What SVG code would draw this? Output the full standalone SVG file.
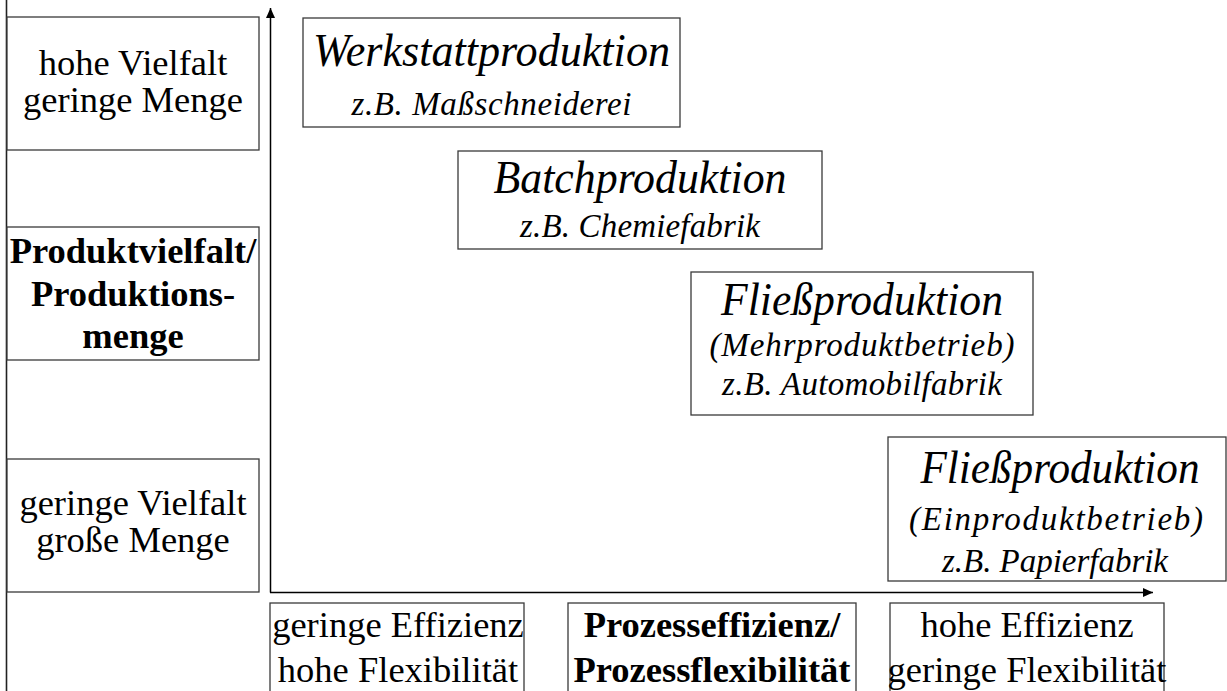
<svg xmlns="http://www.w3.org/2000/svg" width="1227" height="691" viewBox="0 0 1227 691">
  <defs>
    <marker id="arrow" markerWidth="10" markerHeight="10" refX="10" refY="5" orient="auto" markerUnits="userSpaceOnUse">
      <path d="M0,0.5 L10,5 L0,9.5 Z" fill="#000"/>
    </marker>
    <style>
      .box { fill: #fff; stroke: #3a3a3a; stroke-width: 1.3; }
      .axis { stroke: #000; stroke-width: 1.5; fill: none; }
      .frame { stroke: #222; stroke-width: 1.6; fill: none; }
      text { font-family: "Liberation Serif", "Times New Roman", serif; fill: #000; text-anchor: middle; }
      .lbl { font-size: 36.5px; }
      .bold { font-size: 36.5px; font-weight: bold; }
      .title { font-size: 46px; font-style: italic; }
      .sub { font-size: 33px; font-style: italic; }
    </style>
  </defs>
  <rect x="0" y="0" width="1227" height="691" fill="#fff"/>

  <!-- outer left border -->
  <line class="frame" x1="6.5" y1="0" x2="6.5" y2="691"/>

  <!-- axes -->
  <g id="connectors">
    <line class="axis" x1="270.5" y1="592.5" x2="270.5" y2="8" marker-end="url(#arrow)"/>
    <line class="axis" x1="270" y1="592.5" x2="1153" y2="592.5" marker-end="url(#arrow)"/>
  </g>

  <!-- vertical axis labels -->
  <g id="y-high">
    <rect class="box" x="7" y="17" width="252" height="133"/>
    <text class="lbl" x="133" y="75">hohe Vielfalt</text>
    <text class="lbl" x="133" y="112">geringe Menge</text>
  </g>
  <g id="y-title">
    <rect class="box" x="7" y="227" width="252" height="133"/>
    <text class="bold" x="133" y="263">Produktvielfalt/</text>
    <text class="bold" x="133" y="306">Produktions-</text>
    <text class="bold" x="133" y="348">menge</text>
  </g>
  <g id="y-low">
    <rect class="box" x="7" y="459" width="252" height="133"/>
    <text class="lbl" x="133" y="515">geringe Vielfalt</text>
    <text class="lbl" x="133" y="552">große Menge</text>
  </g>

  <!-- horizontal axis labels -->
  <g id="x-low">
    <rect class="box" x="270" y="603" width="254" height="100"/>
    <text class="lbl" x="398" y="637">geringe Effizienz</text>
    <text class="lbl" x="398" y="682">hohe Flexibilität</text>
  </g>
  <g id="x-title">
    <rect class="box" x="568" y="603" width="288" height="100"/>
    <text class="bold" x="712" y="637">Prozesseffizienz/</text>
    <text class="bold" x="712" y="682">Prozessflexibilität</text>
  </g>
  <g id="x-high">
    <rect class="box" x="890" y="603" width="274" height="100"/>
    <text class="lbl" x="1027" y="637">hohe Effizienz</text>
    <text class="lbl" x="1027" y="682">geringe Flexibilität</text>
  </g>

  <!-- production types -->
  <g id="werkstatt">
    <rect class="box" x="303" y="18" width="377" height="109"/>
    <text class="title" x="491.5" y="66" textLength="357" lengthAdjust="spacingAndGlyphs">Werkstattproduktion</text>
    <text class="sub" x="491.5" y="115" textLength="280">z.B. Maßschneiderei</text>
  </g>
  <g id="batch">
    <rect class="box" x="458" y="151" width="364" height="98"/>
    <text class="title" x="640" y="193" textLength="293" lengthAdjust="spacingAndGlyphs">Batchproduktion</text>
    <text class="sub" x="640" y="237" textLength="240">z.B. Chemiefabrik</text>
  </g>
  <g id="fliess-mehr">
    <rect class="box" x="691" y="272" width="342" height="143"/>
    <text class="title" x="862" y="315" textLength="282" lengthAdjust="spacingAndGlyphs">Fließproduktion</text>
    <text class="sub" x="862" y="356" textLength="305">(Mehrproduktbetrieb)</text>
    <text class="sub" x="862" y="395" textLength="280">z.B. Automobilfabrik</text>
  </g>
  <g id="fliess-ein">
    <rect class="box" x="888" y="437" width="338" height="144"/>
    <text class="title" x="1060" y="483" textLength="279" lengthAdjust="spacingAndGlyphs">Fließproduktion</text>
    <text class="sub" x="1056" y="530" textLength="294">(Einproduktbetrieb)</text>
    <text class="sub" x="1055" y="572" textLength="226">z.B. Papierfabrik</text>
  </g>
</svg>
